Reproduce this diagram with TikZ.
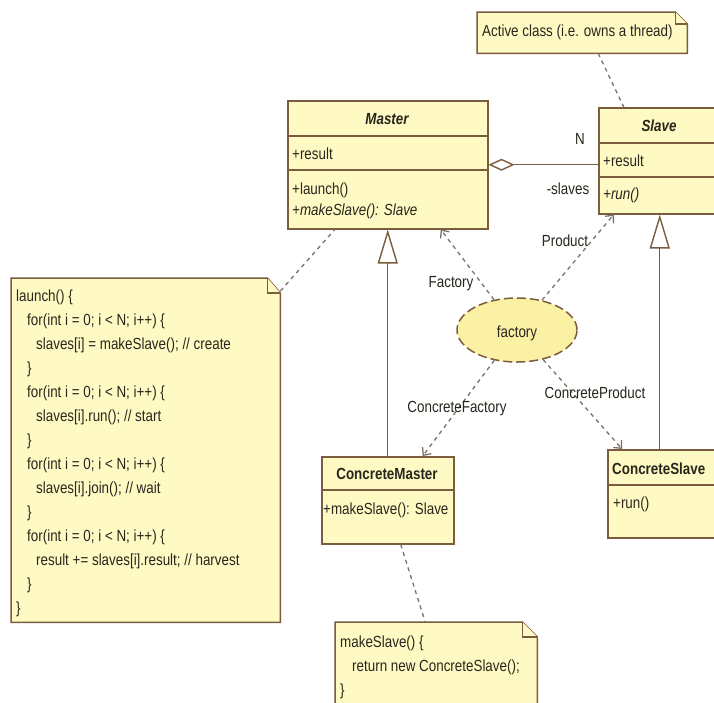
\documentclass[tikz,border=0pt]{standalone}
\usepackage{graphicx}
\usepackage{fontspec}
\setmainfont{Liberation Sans}
\usetikzlibrary{arrows.meta,shapes.geometric,calc}
\definecolor{umlfill}{RGB}{255,250,196}
\definecolor{collabfill}{RGB}{250,241,165}
\definecolor{umlline}{RGB}{122,92,62}
\definecolor{conn}{RGB}{125,112,100}
\definecolor{txtc}{RGB}{40,38,28}
\newcommand\tx[1]{\scalebox{1}[1.2]{#1}}
\newcommand\notepath[3]{%
  \filldraw[notedraw] (#1.north west) -- ([xshift=-#2]#1.north east) -- ([yshift=-#3]#1.north east) -- (#1.south east) -- (#1.south west) -- cycle;
  \draw[notedraw] ([xshift=-#2]#1.north east) |- ([yshift=-#3]#1.north east);}
\tikzset{
  box/.style={draw=umlline, fill=umlfill, line width=1.5pt, rectangle, inner sep=0pt, anchor=north west},
  notebg/.style={rectangle, inner sep=0pt, anchor=north west},
  notedraw/.style={draw=umlline, fill=umlfill, line width=1.5pt, line join=miter},
  divider/.style={draw=umlline, line width=1.5pt},
  lbl/.style={inner sep=0pt, text=txtc, font=\fontsize{13.4}{16}\selectfont},
  code/.style={inner sep=0pt, text=txtc, font=\fontsize{13.4}{20}\selectfont, anchor=base west},
  gen/.style={draw=umlline, line width=1.4pt, -{Triangle[length=34pt,width=20pt,fill=white]}},
  agg/.style={draw=umlline, line width=1.4pt, {Diamond[length=26pt,width=12pt,fill=white]}-},
  dep/.style={draw=conn, line width=1.3pt, dash pattern=on 4pt off 4pt, -{Straight Barb[length=6pt,width=11pt,line width=1.3pt]}},
  notelink/.style={draw=conn, line width=1.3pt, dash pattern=on 4pt off 4pt},
  collab/.style={ellipse, draw=umlline, fill=collabfill, line width=1.5pt, dash pattern=on 9pt off 4pt, minimum width=120pt, minimum height=64pt, inner sep=0pt},
}
\begin{document}
\begin{tikzpicture}[x=1pt,y=-1pt]
\useasboundingbox (0,0) rectangle (714,702);
\fill[white] (0,0) rectangle (714,702);
\clip (0,0) rectangle (714,702);

% notes
\node[notebg, minimum width=210, minimum height=41] (activenote) at (477,12) {};
\notepath{activenote}{12pt}{12pt}
\node[lbl, anchor=base west] (activetext) at (482,36) {\tx{Active class (i.e. owns a thread)}};

\node[notebg, minimum width=269, minimum height=344] (launchnote) at (11,278) {};
\notepath{launchnote}{13pt}{15pt}
\node[code] (launchtext) at (16,301) {\tx{\begin{tabular}[t]{@{}l@{}}
launch() \{\\
\hspace*{11pt}for(int i = 0; i < N; i++) \{\\
\hspace*{20pt}slaves[i] = makeSlave(); // create\\
\hspace*{11pt}\}\\
\hspace*{11pt}for(int i = 0; i < N; i++) \{\\
\hspace*{20pt}slaves[i].run(); // start\\
\hspace*{11pt}\}\\
\hspace*{11pt}for(int i = 0; i < N; i++) \{\\
\hspace*{20pt}slaves[i].join(); // wait\\
\hspace*{11pt}\}\\
\hspace*{11pt}for(int i = 0; i < N; i++) \{\\
\hspace*{20pt}result += slaves[i].result; // harvest\\
\hspace*{11pt}\}\\
\}
\end{tabular}}};

\node[notebg, minimum width=202, minimum height=95] (msnote) at (335,622) {};
\notepath{msnote}{15pt}{15pt}
\node[code] (mstext) at (340,647) {\tx{\begin{tabular}[t]{@{}l@{}}
makeSlave() \{\\
\hspace*{12pt}return new ConcreteSlave();\\
\}
\end{tabular}}};

% classes
\node[box, minimum width=200, minimum height=128] (master) at (287,100) {};
\draw[divider] ([yshift=-36pt]master.north west) -- ([yshift=-36pt]master.north east);
\draw[divider] ([yshift=-70pt]master.north west) -- ([yshift=-70pt]master.north east);
\node[lbl, anchor=base, font=\fontsize{13.4}{16}\selectfont\bfseries\itshape] (mastertitle) at (387,124) {\tx{Master}};
\node[lbl, anchor=base west] (masterattr) at (292,159) {\tx{+result}};
\node[lbl, anchor=base west] (masterop1) at (292,194) {\tx{+launch()}};
\node[lbl, anchor=base west, font=\fontsize{13.4}{16}\selectfont\itshape] (masterop2) at (292,215) {\tx{+makeSlave(): Slave}};

\node[box, minimum width=122, minimum height=106] (slave) at (598,107) {};
\draw[divider] ([yshift=-36pt]slave.north west) -- ([yshift=-36pt]slave.north east);
\draw[divider] ([yshift=-70pt]slave.north west) -- ([yshift=-70pt]slave.north east);
\node[lbl, anchor=base, font=\fontsize{13.4}{16}\selectfont\bfseries\itshape] (slavetitle) at (659,131) {\tx{Slave}};
\node[lbl, anchor=base west] (slaveattr) at (603,166) {\tx{+result}};
\node[lbl, anchor=base west, font=\fontsize{13.4}{16}\selectfont\itshape] (slaveop) at (603,199) {\tx{+run()}};

\node[box, minimum width=132, minimum height=87] (cmaster) at (321,456) {};
\draw[divider] ([yshift=-34pt]cmaster.north west) -- ([yshift=-34pt]cmaster.north east);
\node[lbl, anchor=base, font=\fontsize{13.4}{16}\selectfont\bfseries] (cmastertitle) at (387,479) {\tx{ConcreteMaster}};
\node[lbl, anchor=base west] (cmasterop) at (323,514) {\tx{+makeSlave(): Slave}};

\node[box, minimum width=112, minimum height=88] (cslave) at (607,449) {};
\draw[divider] ([yshift=-36pt]cslave.north west) -- ([yshift=-36pt]cslave.north east);
\node[lbl, anchor=base west, font=\fontsize{13.4}{16}\selectfont\bfseries] (cslavetitle) at (612,474) {\tx{ConcreteSlave}};
\node[lbl, anchor=base west] (cslaveop) at (613,508) {\tx{+run()}};

% collaboration
\node[collab] (fac) at (517,330) {};
\node[lbl, anchor=base] (factext) at (517,337) {\tx{factory}};

% connectors
\draw[agg] (master.east) -- (master.east -| slave.west);
\node[lbl, anchor=base] (nlabel) at (580,144) {\tx{N}};
\node[lbl, anchor=base] (slaveslabel) at (568,194) {\tx{-slaves}};

\draw[notelink] ([xshift=16pt]activenote.south) -- ([xshift=-36pt]slave.north);
\draw[notelink] ([yshift=-13pt]launchnote.north east) -- ([xshift=-53pt]master.south);
\draw[notelink] ([xshift=13pt]cmaster.south) -- ([xshift=-11pt]msnote.north);

\draw[gen] (cmaster.north) -- (master.south);
\draw[gen] (slave.south |- cslave.north) -- (slave.south);

\coordinate (mdep) at ([xshift=53pt]master.south);
\coordinate (sdep) at ([xshift=-46pt]slave.south);
\coordinate (cmdep) at ([xshift=35pt]cmaster.north);
\coordinate (csdep) at ([xshift=15pt]cslave.north west);
\draw[dep] (fac) -- (mdep);
\draw[dep] (fac) -- (sdep);
\draw[dep] (fac) -- (cmdep);
\draw[dep] (fac) -- (csdep);
\node[lbl, anchor=base] (faclabel) at (451,287) {\tx{Factory}};
\node[lbl, anchor=base] (prodlabel) at (565,246) {\tx{Product}};
\node[lbl, anchor=base] (cflabel) at (457,412) {\tx{ConcreteFactory}};
\node[lbl, anchor=base] (cplabel) at (595,398) {\tx{ConcreteProduct}};
\end{tikzpicture}
\end{document}
